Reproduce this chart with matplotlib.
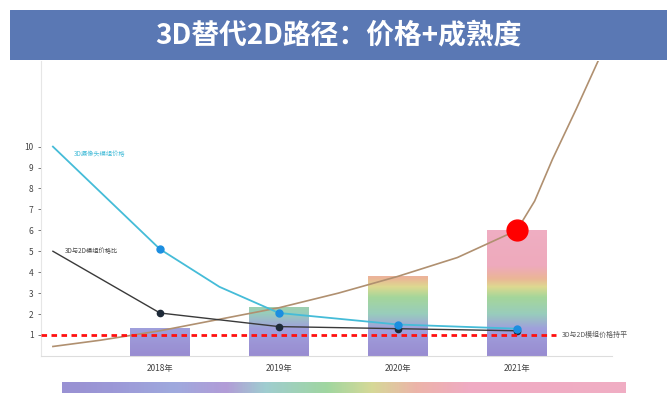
import numpy as np
import matplotlib
matplotlib.use('Agg')
import matplotlib.pyplot as plt
from matplotlib.colors import LinearSegmentedColormap
from matplotlib.patches import Rectangle

plt.rcParams['font.family'] = ['Noto Sans CJK SC', 'DejaVu Sans']

years = ['2018年', '2019年', '2020年', '2021年']
bar_vals = [1.35, 2.35, 3.8, 6.0]

# 3D price line (cyan) and 3D/2D ratio line (black), first point is the start before 2018
cyan_x = [-0.9, 0, 0.5, 1, 2, 3]
cyan_y = [10, 5.1, 3.3, 2.05, 1.5, 1.3]
black_x = [-0.9, 0, 1, 2, 3]
black_y = [5.0, 2.05, 1.4, 1.3, 1.2]
# maturity curve (tan)
tan_x = [-0.9, -0.5, 0, 0.5, 1, 1.5, 2, 2.5, 3, 3.15, 3.3, 3.5, 3.7]
tan_y = [0.45, 0.75, 1.2, 1.75, 2.3, 3.0, 3.8, 4.7, 6.0, 7.4, 9.4, 11.8, 14.3]
parity = 1.0

label_cyan = '3D摄像头模组价格'
label_black = '3D与2D模组价格比'
label_parity = '3D与2D模组价格持平'
title = '3D替代2D路径：价格+成熟度'

# bar colours by height (value, colour)
bar_stops = [(0, '#8677c9'), (1.3, '#8f8fd6'), (2.0, '#86c4b0'), (2.8, '#95cf88'),
             (3.3, '#d8d27c'), (3.7, '#e8a884'), (4.3, '#eb9bb1'), (6.2, '#ee9fb8')]
# colour key strip (position 0..1, colour)
strip_stops = [(0, '#877dcb'), (0.09, '#8a86d0'), (0.2, '#8e9ad8'), (0.29, '#a48ad0'),
               (0.36, '#8ec4c8'), (0.47, '#8fcf8f'), (0.55, '#cfd285'),
               (0.63, '#e9a69a'), (0.72, '#ee9cb8'), (1, '#ee9fba')]

top = bar_stops[-1][0]
cmap = LinearSegmentedColormap.from_list('bars', [(v / top, c) for v, c in bar_stops])
strip_cmap = LinearSegmentedColormap.from_list('strip', strip_stops)

fig = plt.figure(figsize=(6.67, 3.95), dpi=100)
ax = fig.add_axes([0.0615, 0.099, 0.856, 0.747])

# bars with absolute-height gradient
grad = np.linspace(0, 1, 256).reshape(-1, 1)
for i, v in enumerate(bar_vals):
    b = ax.bar(i, v, 0.5, color='none', zorder=1)[0]
    im = ax.imshow(grad, cmap=cmap, origin='lower', aspect='auto',
                   extent=(i - 0.25, i + 0.25, 0, top), alpha=0.85, zorder=1,
                   vmin=0, vmax=1)
    im.set_clip_path(b)
ax.set_xlim(-1, 3.8)
ax.set_ylim(0, 14.1)

ax.plot(tan_x, tan_y, color='#b09070', lw=1.2, zorder=2)
ax.plot(cyan_x, cyan_y, color='#45bcd8', lw=1.3, zorder=3)
ax.plot(cyan_x[1:2] + cyan_x[3:], cyan_y[1:2] + cyan_y[3:], 'o', color='#1c8ee0',
        ms=5, zorder=5)
ax.plot(black_x, black_y, color='#3a3a3a', lw=1.0, zorder=3)
ax.plot(black_x[1:], black_y[1:], 'o', color='#1e2a38', ms=4.5, zorder=4)
ax.plot([-1, 3.33], [parity, parity], color='#ff1010', lw=2, dashes=(2, 1.6), zorder=6)
ax.plot(3, bar_vals[3], 'o', color='#ff0000', ms=15, zorder=7)

ax.text(-0.72, 9.65, label_cyan, color='#45bcd8', fontsize=4.5, va='center')
ax.text(-0.8, 5.0, label_black, color='#444444', fontsize=4.5, va='center')
ax.text(3.38, parity, label_parity, color='#555555', fontsize=5, va='center')

ax.set_yticks(range(1, 11))
ax.set_xticks(range(4))
ax.set_xticklabels(years)
ax.tick_params(axis='y', labelsize=6, colors='#444444', length=2, width=0.5)
ax.tick_params(axis='x', labelsize=6, colors='#444444', length=0, pad=6)
for s in ['top', 'right']:
    ax.spines[s].set_visible(False)
ax.spines['left'].set_color('#e6e6e6')
ax.spines['bottom'].set_color('#dddddd')
ax.spines['left'].set_linewidth(0.8)

# title banner
tax = fig.add_axes([0.015, 0.848, 0.985, 0.127])
tax.set_axis_off()
tax.add_patch(Rectangle((0, 0), 1, 1, transform=tax.transAxes, color='#5a78b4'))
tax.text(0.5, 0.5, title, color='white', fontsize=20, fontweight='bold',
         ha='center', va='center', transform=tax.transAxes)

# colour key strip at bottom
sax = fig.add_axes([0.093, 0.005, 0.845, 0.027])
sax.imshow(np.linspace(0, 1, 256).reshape(1, -1), cmap=strip_cmap, aspect='auto', alpha=0.85)
sax.set_axis_off()

fig.savefig('out.png', dpi=100)
